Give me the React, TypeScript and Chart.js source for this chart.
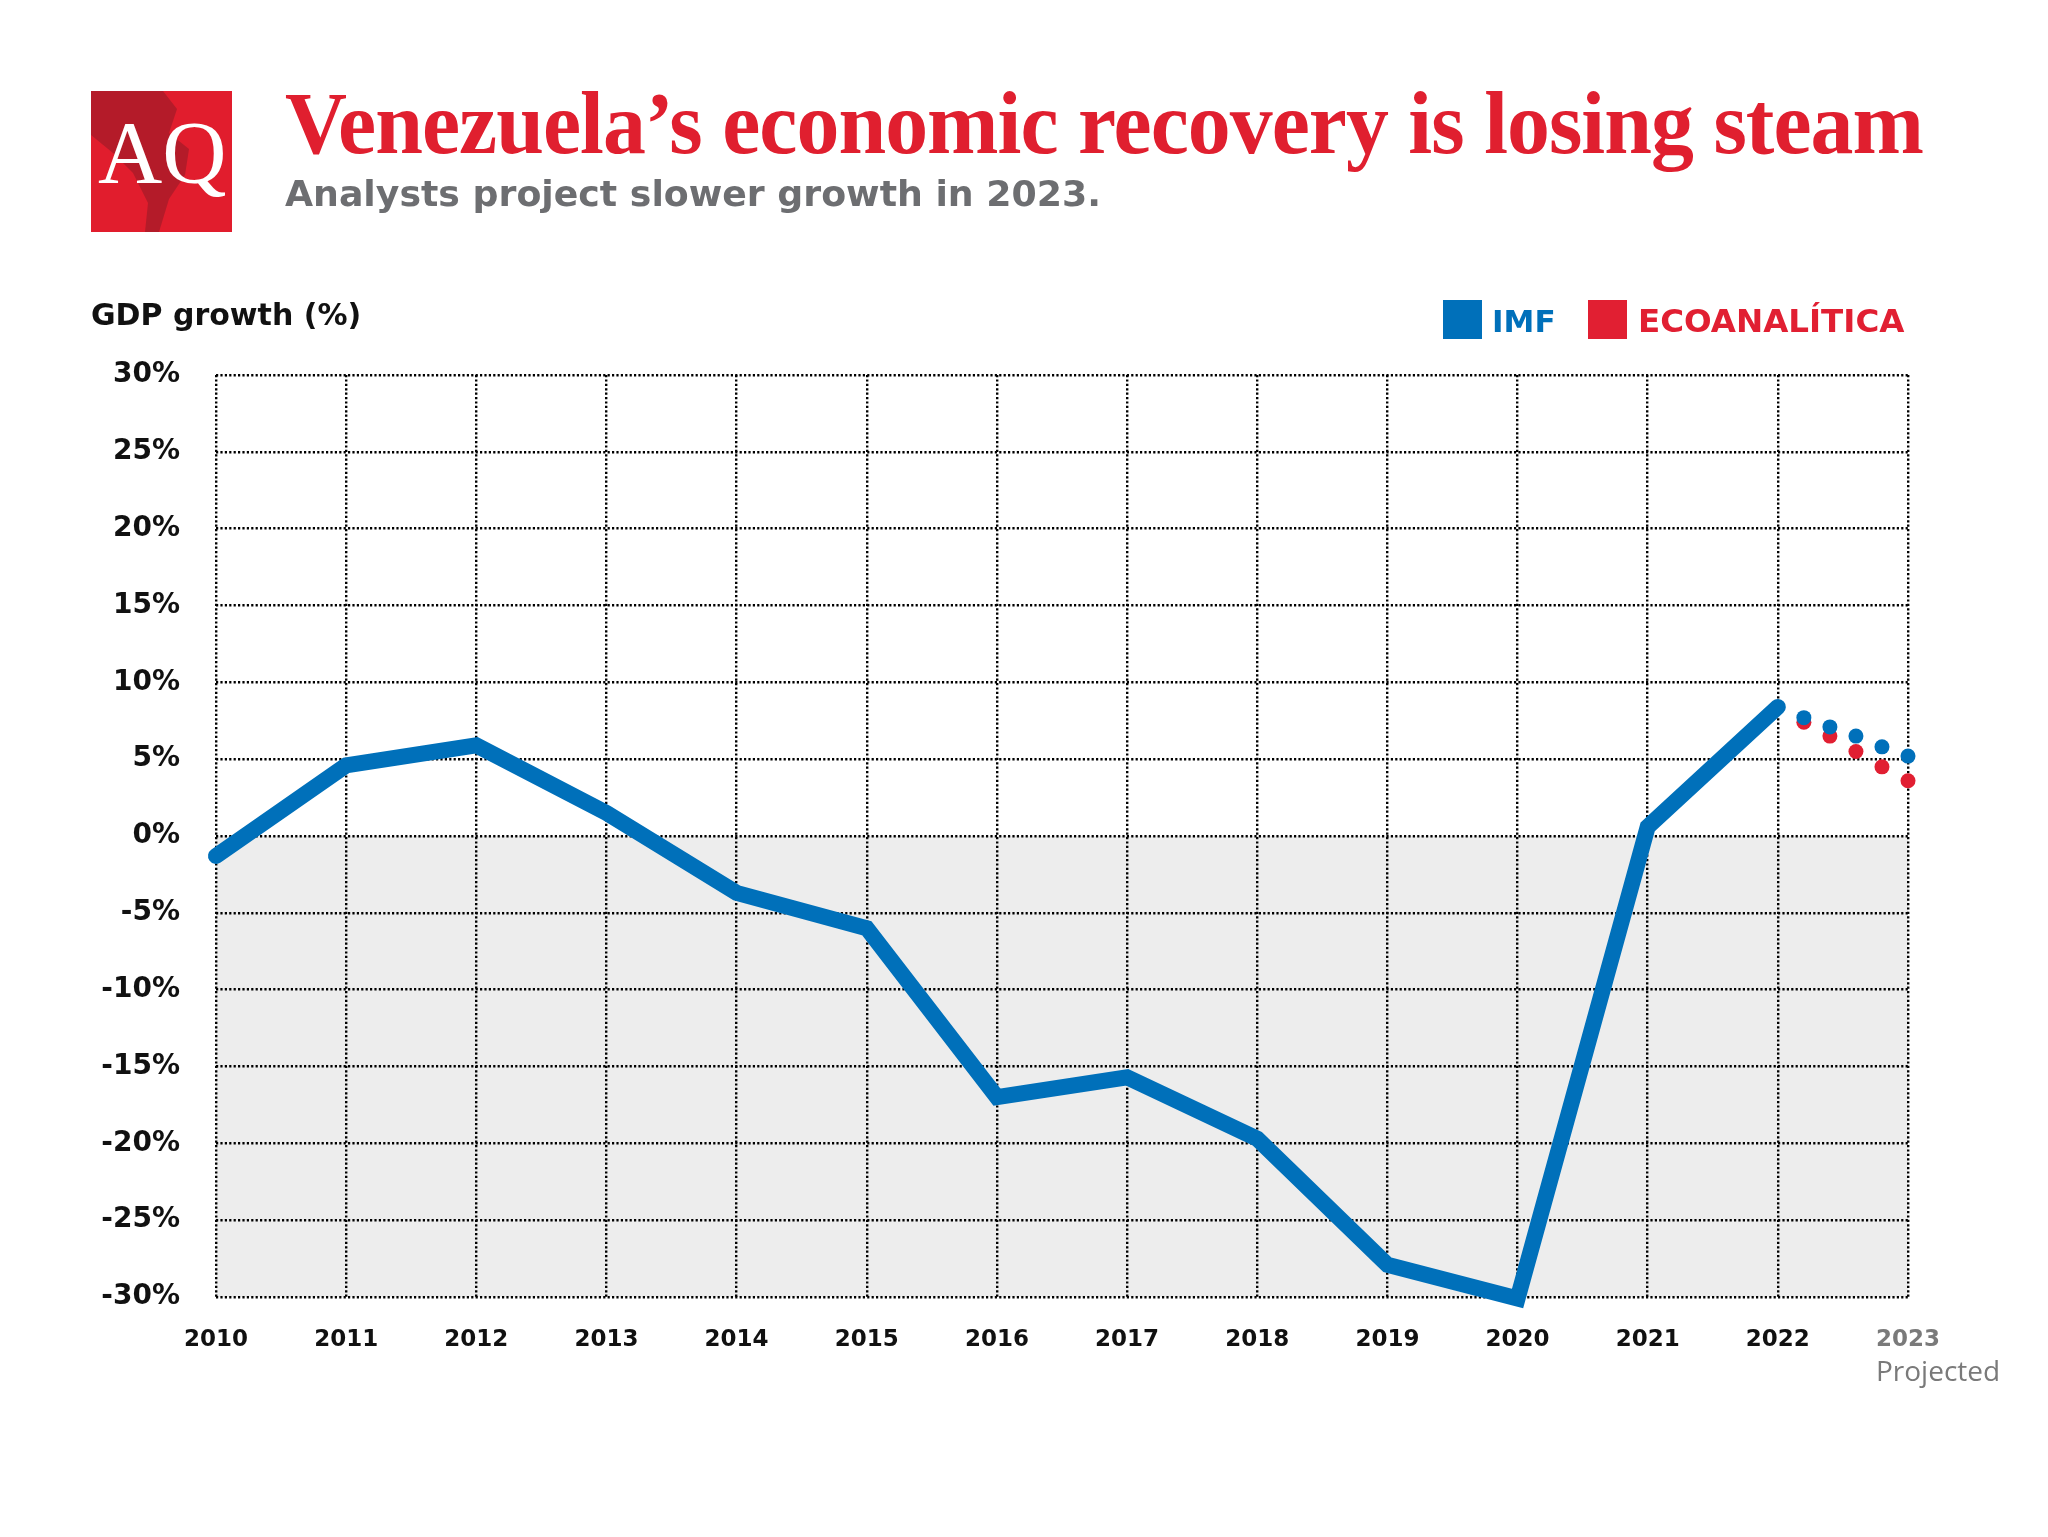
import React, { useEffect, useLayoutEffect, useRef } from 'react';
import { Chart, registerables } from 'chart.js';

Chart.register(...registerables);

// ---- Data ----
const years = [2010, 2011, 2012, 2013, 2014, 2015, 2016, 2017, 2018, 2019, 2020, 2021, 2022];
const imfGrowth = [-1.3, 4.6, 5.9, 1.5, -3.7, -6.0, -17.0, -15.7, -19.7, -27.9, -30.1, 0.6, 8.4];
const projectedSteps = [2022.2, 2022.4, 2022.6, 2022.8, 2023];
const imfProjected = [7.7, 7.1, 6.5, 5.8, 5.2];
const ecoProjected = [7.4, 6.5, 5.5, 4.5, 3.6];
const xTickYears = [2010, 2011, 2012, 2013, 2014, 2015, 2016, 2017, 2018, 2019, 2020, 2021, 2022, 2023];
const yMin = -30;
const yMax = 30;
const yStep = 5;
const projectedYear = 2023;
const projectedLabel = 'Projected';

const BLUE = '#0070ba';
const RED = '#e11f32';
const GRID = '#000000';

const TICK_FONT_FAMILY = '"DejaVu Sans", sans-serif';

const chartPlugin = {
  id: 'aqDecor',
  beforeDraw(chart: any) {
    const { ctx, chartArea: a, scales } = chart;
    const y0 = scales.y.getPixelForValue(0);
    ctx.save();
    ctx.fillStyle = '#ffffff';
    ctx.fillRect(0, 0, chart.width, chart.height);
    ctx.fillStyle = '#ededed';
    ctx.fillRect(a.left, y0, a.right - a.left, a.bottom - y0);
    ctx.restore();
  },
  afterDraw(chart: any) {
    const { ctx, scales } = chart;
    const px = scales.x.getPixelForValue(projectedYear);
    ctx.save();
    ctx.font = `bold 23px ${TICK_FONT_FAMILY}`;
    const w = ctx.measureText(String(projectedYear)).width;
    ctx.font = '400 28px "Open Sans", sans-serif';
    ctx.fillStyle = '#7a7a7a';
    ctx.textAlign = 'left';
    ctx.textBaseline = 'alphabetic';
    ctx.fillText(projectedLabel, px - w / 2, 1381);
    ctx.restore();
  },
};

function ChartCanvas() {
  const ref = useRef<HTMLCanvasElement | null>(null);
  useEffect(() => {
    if (!ref.current) return;
    const chart = new Chart(ref.current, {
      type: 'line',
      data: {
        datasets: [
          {
            label: 'IMF',
            data: years.map((x, i) => ({ x, y: imfGrowth[i] })),
            borderColor: BLUE,
            backgroundColor: BLUE,
            borderWidth: 16,
            borderCapStyle: 'round',
            borderJoinStyle: 'miter',
            pointRadius: 0,
            tension: 0,
            clip: false,
            order: 0,
          } as any,
          {
            label: 'IMF projected',
            data: projectedSteps.map((x, i) => ({ x, y: imfProjected[i] })),
            showLine: false,
            pointRadius: 7.5,
            pointBorderWidth: 0,
            pointBackgroundColor: BLUE,
            borderColor: BLUE,
            clip: false,
            order: 1,
          } as any,
          {
            label: 'ECOANALÍTICA projected',
            data: projectedSteps.map((x, i) => ({ x, y: ecoProjected[i] })),
            showLine: false,
            pointRadius: 7.5,
            pointBorderWidth: 0,
            pointBackgroundColor: RED,
            borderColor: RED,
            clip: false,
            order: 2,
          } as any,
        ],
      },
      options: {
        animation: false,
        responsive: false,
        devicePixelRatio: 1,
        events: [],
        layout: { padding: { left: 0, right: 140, top: 375, bottom: 0 } },
        plugins: {
          legend: { display: false },
          tooltip: { enabled: false },
          title: { display: false },
        },
        scales: {
          x: {
            type: 'linear',
            min: xTickYears[0],
            max: xTickYears[xTickYears.length - 1],
            afterFit: (s: any) => { s.height = 240; },
            afterBuildTicks: (s: any) => { s.ticks = xTickYears.map((v) => ({ value: v })); },
            border: { display: false, dash: [2.2, 2.2] },
            grid: {
              color: GRID,
              lineWidth: 2.4,
              drawTicks: false,
            },
            ticks: {
              autoSkip: false,
              maxRotation: 0,
              padding: 29,
              callback: (v: any) => String(v),
              color: (c: any) => (c.tick && c.tick.value === projectedYear ? '#7a7a7a' : '#111111'),
              font: { family: TICK_FONT_FAMILY, size: 23, weight: 'bold' },
            },
          } as any,
          y: {
            type: 'linear',
            min: yMin,
            max: yMax,
            afterFit: (s: any) => { s.width = 216; },
            border: { display: false, dash: [2.2, 2.2] },
            grid: {
              color: GRID,
              lineWidth: 2.4,
              drawTicks: false,
            },
            ticks: {
              stepSize: yStep,
              padding: 36,
              callback: (v: any) => `${v}%`,
              color: '#111111',
              font: { family: TICK_FONT_FAMILY, size: 28, weight: 'bold' },
            },
          } as any,
        },
      } as any,
      plugins: [chartPlugin],
    });
    return () => chart.destroy();
  }, []);
  return (
    <canvas
      ref={ref}
      width={2048}
      height={1537}
      style={{ position: 'absolute', left: 0, top: 0, width: 2048, height: 1537 }}
    />
  );
}

function FitText(props: { text: string; width: number; style: React.CSSProperties }) {
  const ref = useRef<HTMLSpanElement | null>(null);
  useLayoutEffect(() => {
    const el = ref.current;
    if (!el) return;
    el.style.transform = 'none';
    const w = el.getBoundingClientRect().width;
    if (w > 0) el.style.transform = `scaleX(${props.width / w})`;
  }, [props.text, props.width]);
  return (
    <span
      ref={ref}
      style={{ display: 'inline-block', whiteSpace: 'nowrap', transformOrigin: '0 0', ...props.style }}
    >
      {props.text}
    </span>
  );
}

export default function App() {
  return (
    <div style={{ position: 'absolute', left: 0, top: 0, width: 2048, height: 1537, background: '#fff', overflow: 'hidden' }}>
      <ChartCanvas />
      {/* Logo */}
      <div style={{ position: 'absolute', left: 91, top: 91, width: 141, height: 141, background: '#e11d2d', overflow: 'hidden' }}>
        <svg width={141} height={141} style={{ position: 'absolute', left: 0, top: 0 }}>
          <path
            d="M0,0 L72,0 L86,18 L78,42 L98,58 L94,84 L78,108 L68,141 L54,141 L57,112 L42,82 L22,62 L0,44 Z"
            fill="#8f1a26"
            opacity={0.55}
          />
        </svg>
        <div style={{ position: 'absolute', left: 7, top: 17, fontFamily: '"Liberation Serif", serif', fontSize: 89, lineHeight: 1, color: '#fff', whiteSpace: 'nowrap' }}>
          AQ
        </div>
      </div>
      {/* Title */}
      <div style={{ position: 'absolute', left: 285, top: 79, lineHeight: 1 }}>
        <FitText
          text="Venezuela’s economic recovery is losing steam"
          width={1638}
          style={{ fontFamily: '"Liberation Serif", serif', fontWeight: 'bold', fontSize: 89, lineHeight: 1, color: '#e01f2f', letterSpacing: -1 }}
        />
      </div>
      <div style={{ position: 'absolute', left: 285, top: 176, lineHeight: 1 }}>
        <FitText
          text="Analysts project slower growth in 2023."
          width={816}
          style={{ fontFamily: '"DejaVu Sans", sans-serif', fontWeight: 'bold', fontSize: 36, lineHeight: 1, color: '#6d6e71' }}
        />
      </div>
      {/* Axis title */}
      <div style={{ position: 'absolute', left: 91, top: 300, fontFamily: '"DejaVu Sans", sans-serif', fontWeight: 'bold', fontSize: 30, lineHeight: 1, color: '#111', whiteSpace: 'nowrap' }}>
        GDP growth (%)
      </div>
      {/* Legend */}
      <div style={{ position: 'absolute', left: 1443, top: 300, width: 39, height: 39, background: BLUE }} />
      <div style={{ position: 'absolute', left: 1492, top: 306, fontFamily: '"DejaVu Sans", sans-serif', fontWeight: 'bold', fontSize: 31, lineHeight: 1, color: BLUE, whiteSpace: 'nowrap' }}>
        IMF
      </div>
      <div style={{ position: 'absolute', left: 1588, top: 300, width: 39, height: 39, background: RED }} />
      <div style={{ position: 'absolute', left: 1638, top: 305, fontFamily: '"DejaVu Sans", sans-serif', fontWeight: 'bold', fontSize: 32.5, lineHeight: 1, color: RED, whiteSpace: 'nowrap' }}>
        ECOANALÍTICA
      </div>
    </div>
  );
}
